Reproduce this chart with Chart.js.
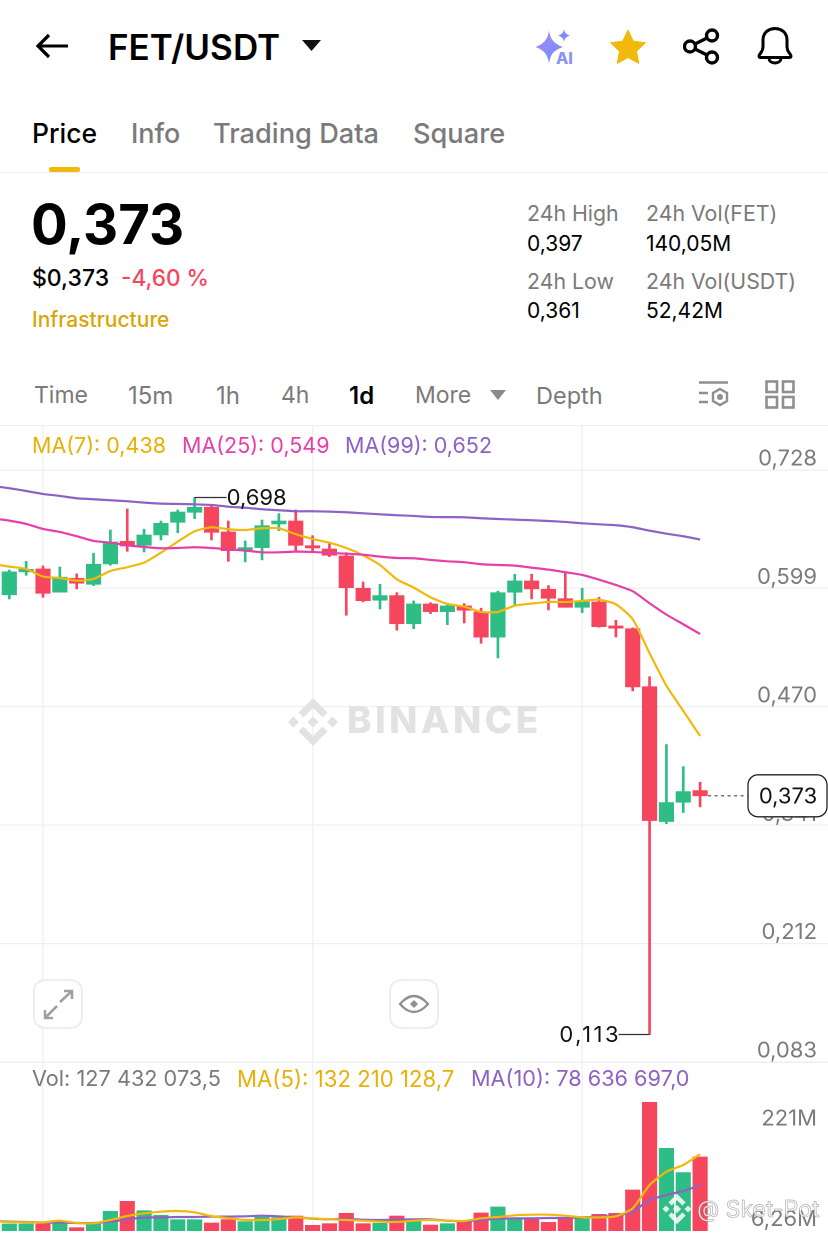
<!DOCTYPE html>
<html>
<head>
<meta charset="utf-8">
<title>FET/USDT</title>
<script src="https://cdn.jsdelivr.net/npm/chart.js@4/dist/chart.umd.min.js"></script>
<style>
  html, body { margin: 0; padding: 0; background: #fff; }
  body { width: 828px; height: 1236px; position: relative; overflow: hidden; font-family: Inter, sans-serif; color: #000; }
  .t { position: absolute; white-space: nowrap; line-height: 1; }
  .grey { color: #7a7a7a; }
  .hr { position: absolute; left: 0; width: 828px; height: 1px; background: #eeeeee; }
  canvas { position: absolute; left: 0; }
  svg { position: absolute; }
  .btn { position: absolute; box-sizing: border-box; width: 50px; height: 50px; border: 2px solid #eeeeee; border-radius: 12px; background: rgba(255,255,255,.88); }
</style>
</head>
<body>

<!-- header -->
<svg style="left:35px;top:30px" width="34" height="32" viewBox="0 0 34 32" fill="none" stroke="#000" stroke-width="3.2"><path d="M33 16H3M14 5L3 16l11 11"/></svg>
<div class="t" style="left:108px;top:30px;font-size:35px;font-weight:600">FET/USDT</div>
<svg style="left:302px;top:40px" width="20" height="12"><path d="M0 0h19L9.5 11z" fill="#111"/></svg>
<svg style="left:534px;top:28px" width="44" height="38"><defs><linearGradient id="g" x1="0" y1="0" x2="1" y2="1"><stop offset="0" stop-color="#a48cf0"/><stop offset="1" stop-color="#6f8cff"/></linearGradient></defs><path d="M15 2.500c1.500 9 4.500 13 14 16.500-9.500 3.500-12.500 7-14 16.500C13.500 26 10.500 22.500 1.500 19c9-3.500 12-7.500 13.500-16.500z" fill="url(#g)"/><path d="M30 1c.6 4 2 5 6 6.500C32 9 30.600 10.500 30 14c-.6-3.500-2-5-6-6.500C28 6 29.400 5 30 1z" fill="#7c8cf8"/></svg>
<div class="t" style="left:556px;top:50px;font-size:16px;font-weight:800;color:#8a94f4">AI</div>
<svg style="left:609px;top:28px" width="38" height="36" viewBox="0 0 38 36"><path d="M19 2l5.300 11.200 12.200 1.600-9 8.500 2.300 12.100L19 29.500 8.200 35.400l2.300-12.100-9-8.500 12.200-1.600z" fill="#f0b90b" stroke="#f0b90b" stroke-linejoin="round"/></svg>
<svg style="left:683px;top:28px" width="38" height="38" fill="none" stroke="#000" stroke-width="3.400"><circle cx="29" cy="7.500" r="5.500"/><circle cx="7" cy="18.500" r="5.500"/><circle cx="29" cy="29.500" r="5.500"/><path d="M12 16l12-6M12 21l12 6"/></svg>
<svg style="left:756px;top:26px" width="38" height="40" fill="none" stroke="#000" stroke-width="3"><path d="M3 30c0-2 4-4 4-9v-7c0-7 5-11.500 12-11.500S31 7 31 14v7c0 5 4 7 4 9 0 1-.5 1.500-1.500 1.500h-29C3.500 31.500 3 31 3 30z"/><path d="M13 32c0 3 2.500 5 6 5s6-2 6-5"/></svg>

<!-- tabs -->
<div class="t" style="left:32px;top:120px;font-size:26.500px;font-weight:500">Price</div>
<div class="t grey" style="left:131px;top:120px;font-size:27px;font-weight:500">Info</div>
<div class="t grey" style="left:213px;top:120px;font-size:27.200px;font-weight:500">Trading Data</div>
<div class="t grey" style="left:413px;top:120px;font-size:27.200px;font-weight:500">Square</div>
<div style="position:absolute;left:49px;top:167px;width:31px;height:5px;background:#f0b90b;border-radius:2px"></div>
<div class="hr" style="top:172px"></div>

<!-- price block -->
<div class="t" style="left:31px;top:197px;font-size:54.500px;font-weight:700">0,373</div>
<div class="t" style="left:32px;top:267px;font-size:23px;font-weight:500">$0,373</div>
<div class="t" style="left:121px;top:267px;font-size:22.600px;font-weight:500;color:#f6465d">-4,60 %</div>
<div class="t" style="left:32px;top:309px;font-size:21px;font-weight:500;color:#d9a507">Infrastructure</div>

<div class="t grey" style="left:527px;top:203px;font-size:21.300px">24h High</div>
<div class="t" style="left:527px;top:233px;font-size:21px">0,397</div>
<div class="t grey" style="left:527px;top:271px;font-size:21.300px">24h Low</div>
<div class="t" style="left:527px;top:300px;font-size:21px">0,361</div>
<div class="t grey" style="left:646px;top:203px;font-size:21.300px">24h Vol(FET)</div>
<div class="t" style="left:646px;top:233px;font-size:21px">140,05M</div>
<div class="t grey" style="left:646px;top:271px;font-size:21.300px">24h Vol(USDT)</div>
<div class="t" style="left:646px;top:300px;font-size:21px">52,42M</div>

<!-- interval row -->
<div class="t grey" style="left:34px;top:384px;font-size:23px">Time</div>
<div class="t grey" style="left:128px;top:384px;font-size:24px">15m</div>
<div class="t grey" style="left:216px;top:384px;font-size:24px">1h</div>
<div class="t grey" style="left:281px;top:384px;font-size:23px">4h</div>
<div class="t" style="left:349px;top:384px;font-size:24px;font-weight:600">1d</div>
<div class="t grey" style="left:415px;top:384px;font-size:23px">More</div>
<svg style="left:490px;top:390px" width="16" height="11"><path d="M0 0h16L8 10z" fill="#8a8a8a"/></svg>
<div class="t grey" style="left:536px;top:384px;font-size:23.500px">Depth</div>
<svg style="left:698px;top:380px" width="32" height="30" fill="none" stroke="#8f8f8f" stroke-width="2.400"><path d="M1 2.500h29M1 13h9M1 22h9"/><path d="M22 9l7 4v8l-7 4-7-4v-8z"/><circle cx="22" cy="17" r="1.800" fill="#8f8f8f"/></svg>
<svg style="left:765px;top:380px" width="30" height="30" fill="none" stroke="#8f8f8f" stroke-width="2.600"><rect x="1.500" y="1.500" width="10.500" height="10.500"/><rect x="18" y="1.500" width="10.500" height="10.500"/><rect x="1.500" y="17" width="10.500" height="10.500"/><rect x="18" y="17" width="10.500" height="10.500"/></svg>
<div class="hr" style="top:425px"></div>

<!-- charts -->
<canvas id="priceChart" style="top:426px"></canvas>
<canvas id="volChart" style="top:1062px"></canvas>
<div class="hr" style="top:1062px"></div>

<!-- legends -->
<div class="t" style="left:32px;top:435px;font-size:21.500px;color:#e8b008">MA(7): 0,438</div>
<div class="t" style="left:182px;top:435px;font-size:21.500px;color:#e63fa9">MA(25): 0,549</div>
<div class="t" style="left:345px;top:435px;font-size:21.500px;color:#8e62c4">MA(99): 0,652</div>
<div class="t grey" style="left:32px;top:1068px;font-size:21.700px">Vol: 127 432 073,5</div>
<div class="t" style="left:237px;top:1068px;font-size:22.200px;color:#e8b008">MA(5): 132 210 128,7</div>
<div class="t" style="left:471px;top:1068px;font-size:21.700px;color:#8e62c4">MA(10): 78 636 697,0</div>

<!-- chart buttons -->
<div class="btn" style="left:33px;top:979px"></div>
<svg style="left:42px;top:988px" width="32" height="32" fill="none" stroke="#a0a0a0" stroke-width="2.500"><path d="M18 14L30 3M22 3h8v8M15 18L3 30M3 22v8h8"/></svg>
<div class="btn" style="left:389px;top:979px"></div>
<svg style="left:398px;top:992px" width="32" height="24" fill="none" stroke="#8f8f8f" stroke-width="2.300"><path d="M2 12Q16-4 30 12 16 28 2 12z"/><path d="M16 8l4 4-4 4-4-4z" fill="#8f8f8f" stroke="none"/></svg>

<script>
// day index along the x axis; -1 is the session just left of the screen, lines only
const days = [-1, 0, 1, 2, 3, 4, 5, 6, 7, 8, 9, 10, 11, 12, 13, 14, 15, 16, 17, 18, 19, 20, 21, 22, 23, 24, 25, 26, 27, 28, 29, 30, 31, 32, 33, 34, 35, 36, 37, 38, 39, 40, 41];

const opens = [0.592, 0.617, 0.6202, 0.5948, 0.61, 0.6035, 0.6256, 0.6503, 0.646, 0.6572, 0.671, 0.6819, 0.6874, 0.6605, 0.6401, 0.6434, 0.6692, 0.6724, 0.6455, 0.6419, 0.6343, 0.5991, 0.5861, 0.5911, 0.5606, 0.582, 0.5736, 0.5799, 0.5733, 0.5458, 0.5948, 0.6071, 0.598, 0.5878, 0.5784, 0.5842, 0.5581, 0.5551, 0.4919, 0.3449, 0.366, 0.3787];
const highs = [0.619, 0.6285, 0.6234, 0.6223, 0.6147, 0.6373, 0.6626, 0.6855, 0.6634, 0.6724, 0.6844, 0.698, 0.6888, 0.6724, 0.6507, 0.6735, 0.6804, 0.6844, 0.6564, 0.6485, 0.6379, 0.606, 0.6035, 0.5943, 0.5853, 0.5834, 0.5828, 0.5824, 0.5774, 0.5959, 0.6144, 0.6144, 0.602, 0.6169, 0.5991, 0.5893, 0.5643, 0.5559, 0.5028, 0.4288, 0.4048, 0.3878];
const lows = [0.5875, 0.6133, 0.5893, 0.5948, 0.5984, 0.602, 0.6242, 0.6394, 0.6387, 0.6517, 0.6597, 0.675, 0.6517, 0.6285, 0.6278, 0.63, 0.6619, 0.6405, 0.639, 0.6336, 0.5697, 0.5842, 0.5766, 0.5534, 0.5551, 0.5715, 0.5595, 0.5613, 0.5392, 0.5232, 0.5809, 0.5875, 0.5755, 0.5784, 0.5726, 0.5567, 0.5461, 0.4873, 0.113, 0.3427, 0.3547, 0.3609];
const closes = [0.617, 0.6198, 0.5937, 0.6111, 0.6046, 0.6253, 0.6496, 0.6452, 0.6572, 0.6699, 0.6822, 0.6874, 0.6601, 0.6401, 0.6434, 0.6673, 0.6724, 0.646, 0.643, 0.6351, 0.5998, 0.5856, 0.5911, 0.5606, 0.582, 0.5736, 0.5799, 0.5752, 0.5458, 0.5943, 0.6071, 0.5984, 0.5882, 0.5784, 0.5842, 0.5573, 0.5556, 0.4916, 0.346, 0.3656, 0.3776, 0.373];

const ma7 = [0.6256, 0.6227, 0.6202, 0.6118, 0.6104, 0.6074, 0.6093, 0.618, 0.622, 0.627, 0.6379, 0.6499, 0.6612, 0.6656, 0.6634, 0.6626, 0.6645, 0.6645, 0.658, 0.6528, 0.6488, 0.643, 0.6351, 0.6245, 0.6089, 0.5998, 0.5893, 0.582, 0.5791, 0.5733, 0.5733, 0.5802, 0.5824, 0.5842, 0.5842, 0.5853, 0.5867, 0.5817, 0.5654, 0.5283, 0.493, 0.4655, 0.4382];
const ma25 = [0.6752, 0.6728, 0.6692, 0.6637, 0.6605, 0.6558, 0.6507, 0.6488, 0.646, 0.6441, 0.6427, 0.643, 0.6438, 0.643, 0.6416, 0.6401, 0.6383, 0.6383, 0.639, 0.6387, 0.6376, 0.6368, 0.6357, 0.6336, 0.6321, 0.6318, 0.63, 0.6285, 0.6275, 0.6253, 0.6245, 0.6238, 0.6216, 0.6194, 0.6166, 0.6136, 0.6085, 0.6027, 0.5959, 0.5828, 0.5704, 0.5599, 0.5493];
const ma99 = [0.7106, 0.7081, 0.7051, 0.7019, 0.6997, 0.6972, 0.6961, 0.695, 0.6939, 0.6924, 0.6913, 0.691, 0.6906, 0.6899, 0.688, 0.6869, 0.6852, 0.6841, 0.683, 0.683, 0.6826, 0.6819, 0.6808, 0.6797, 0.6787, 0.6779, 0.6768, 0.6766, 0.6765, 0.6754, 0.6746, 0.6739, 0.6732, 0.6724, 0.6714, 0.6699, 0.6688, 0.6678, 0.6656, 0.6619, 0.6586, 0.6558, 0.6522];

const volumes = [12.1, 12.1, 12.1, 14.4, 5.7, 12.1, 33.9, 51.1, 35, 27, 19.5, 19.5, 13.8, 19.5, 16.1, 24.1, 23, 25.8, 9.8, 12.6, 30.4, 12.6, 13.2, 25.8, 17.8, 10.3, 12.6, 17.2, 31, 41.3, 21.8, 20.1, 14.9, 21.2, 21.8, 28.7, 30.4, 70.6, 221.6, 142.4, 100.5, 127.4];
const volMa5 = [16.6, 15.5, 14.9, 14.9, 17.8, 13.8, 13.2, 18.9, 25.8, 30.4, 33.3, 34.4, 32.1, 25.8, 21.8, 18.9, 18.9, 20.7, 23.5, 21.8, 20.1, 18.9, 17.8, 16.1, 15.5, 17.8, 18.9, 17.8, 17.2, 21.8, 24.1, 27, 28.1, 28.1, 26.4, 23.5, 23.5, 25.3, 39, 79.2, 102.2, 113.7, 132.2];
const volMa10 = [17.2, 16.1, 15.5, 14.4, 14.4, 13.8, 13.8, 16.1, 20.1, 23, 23.5, 24.1, 24.1, 24.7, 24.7, 25.3, 26.4, 25.3, 23.5, 21.2, 20.1, 20.7, 19.5, 18.9, 19.5, 20.1, 20.1, 17.8, 16.6, 18.9, 21.2, 21.8, 21.8, 22.4, 22.4, 23.5, 24.7, 26.4, 33.3, 53.4, 62, 68.9, 78.6];

const priceTicks = [0.728, 0.599, 0.47, 0.341, 0.212, 0.083];
const gridDays = [2, 18, 34];
const lastPrice = 0.373;
const maxPrice = 0.698, maxDay = 11;
const minPrice = 0.113, minDay = 38;

const UP = '#2ebd85', DOWN = '#f6465d';
const GOLD = '#f0b90b', PINK = '#e63fa9', PURPLE = '#8e62c4';
const candleDays = days.slice(1);
const candleColors = closes.map((c, i) => (c >= opens[i] ? UP : DOWN));

// shows day -0.55 .. 48.6 so candles land 16.85px apart
const xScale = {
  type: 'linear', min: -0.552, max: 48.59, offset: false,
  afterBuildTicks: (s) => { s.ticks = gridDays.map((v) => ({ value: v })); },
  grid: { color: '#f2f2f2', drawTicks: false, lineWidth: 1.5, offset: false },
  border: { display: false },
  ticks: { display: false },
};

function line(label, values, color) {
  return {
    type: 'line', label, data: days.map((d, i) => ({ x: d, y: values[i] })),
    borderColor: color, borderWidth: 2.2, pointRadius: 0, tension: 0.2, order: 0,
  };
}

const fmt = (v) => v.toFixed(3).replace('.', ',');

const priceOverlay = {
  id: 'priceOverlay',
  afterDatasetsDraw(chart) {
    const { ctx, scales: { x, y } } = chart;
    ctx.save();
    ctx.font = '22px Inter, sans-serif';
    ctx.textBaseline = 'middle';

    // highest and lowest markers
    ctx.strokeStyle = '#333'; ctx.lineWidth = 1.2; ctx.fillStyle = '#111';
    const hx = x.getPixelForValue(maxDay), hy = y.getPixelForValue(maxPrice);
    ctx.beginPath(); ctx.moveTo(hx, hy); ctx.lineTo(hx + 32, hy); ctx.stroke();
    ctx.textAlign = 'left';
    ctx.fillText(fmt(maxPrice), hx + 32, hy + 1);
    const lx = x.getPixelForValue(minDay), ly = y.getPixelForValue(minPrice);
    ctx.beginPath(); ctx.moveTo(lx, ly); ctx.lineTo(lx - 31, ly); ctx.stroke();
    ctx.textAlign = 'right';
    ctx.letterSpacing = '2.5px'; // the 1s are narrow in this font
    ctx.fillText(fmt(minPrice), lx - 28.5, ly + 1);
    ctx.letterSpacing = '0px';

    // current price: dashes and tag
    const py = y.getPixelForValue(lastPrice), px = x.getPixelForValue(days[days.length - 1]);
    ctx.setLineDash([3, 3.5]); ctx.strokeStyle = '#444';
    ctx.beginPath(); ctx.moveTo(px + 8, py); ctx.lineTo(748, py); ctx.stroke();
    ctx.setLineDash([]);
    ctx.fillStyle = '#fff'; ctx.lineWidth = 1.3; ctx.strokeStyle = '#222';
    ctx.beginPath(); ctx.roundRect(748, py - 21, 79, 42, 10); ctx.fill(); ctx.stroke();
    ctx.fillStyle = '#111'; ctx.textAlign = 'center';
    ctx.fillText(fmt(lastPrice), 788, py + 1);
    ctx.restore();
  },
};

const watermark = {
  id: 'watermark',
  beforeDatasetsDraw(chart) {
    const { ctx } = chart;
    ctx.save();
    ctx.fillStyle = '#e2e2e2';
    ctx.font = '800 37px Inter, sans-serif';
    ctx.letterSpacing = '3.5px';
    ctx.textAlign = 'left'; ctx.textBaseline = 'middle';
    ctx.fillText('BINANCE', 347, 296);
    ctx.letterSpacing = '0px';
    // diamond logo
    const cx = 313, cy = 296;
    const diamond = (dx, dy, r) => {
      ctx.beginPath();
      ctx.moveTo(cx + dx, cy + dy - r); ctx.lineTo(cx + dx + r, cy + dy);
      ctx.lineTo(cx + dx, cy + dy + r); ctx.lineTo(cx + dx - r, cy + dy); ctx.closePath(); ctx.fill();
    };
    diamond(0, 0, 5.5); diamond(-19.5, 0, 5.5); diamond(19.5, 0, 5.5);
    ctx.lineWidth = 7; ctx.strokeStyle = '#e2e2e2';
    ctx.beginPath(); ctx.moveTo(-12 + cx, cy - 7); ctx.lineTo(cx, cy - 19); ctx.lineTo(cx + 12, cy - 7); ctx.stroke();
    ctx.beginPath(); ctx.moveTo(-12 + cx, cy + 7); ctx.lineTo(cx, cy + 19); ctx.lineTo(cx + 12, cy + 7); ctx.stroke();
    ctx.restore();
  },
};

const volLabels = {
  id: 'volLabels',
  afterDatasetsDraw(chart) {
    const { ctx, scales: { y } } = chart;
    ctx.save();
    ctx.font = '22px Inter, sans-serif';
    ctx.fillStyle = '#7a7a7a';
    ctx.textAlign = 'right';
    ctx.textBaseline = 'top';
    ctx.fillText('221M', 817, y.getPixelForValue(221) + 5);
    ctx.textBaseline = 'bottom';
    ctx.fillText('6,26M', 817, y.getPixelForValue(6.26) + 3);

    // reposter's mark over the bottom right corner
    const cx = 677, cy = 147;
    ctx.fillStyle = 'rgba(255,255,255,0.85)';
    [[0, 0, 4], [-11, 0, 3.5], [11, 0, 3.5]].forEach(([dx, dy, r]) => {
      ctx.beginPath();
      ctx.moveTo(cx + dx, cy + dy - r); ctx.lineTo(cx + dx + r, cy + dy);
      ctx.lineTo(cx + dx, cy + dy + r); ctx.lineTo(cx + dx - r, cy + dy); ctx.closePath(); ctx.fill();
    });
    ctx.strokeStyle = 'rgba(255,255,255,0.85)'; ctx.lineWidth = 4.5;
    ctx.beginPath(); ctx.moveTo(cx - 7, cy - 5); ctx.lineTo(cx, cy - 12); ctx.lineTo(cx + 7, cy - 5); ctx.stroke();
    ctx.beginPath(); ctx.moveTo(cx - 7, cy + 5); ctx.lineTo(cx, cy + 12); ctx.lineTo(cx + 7, cy + 5); ctx.stroke();
    ctx.font = '23px Inter, sans-serif';
    ctx.textAlign = 'left'; ctx.textBaseline = 'middle';
    ctx.fillStyle = 'rgba(255,255,255,0.85)';
    ctx.strokeStyle = 'rgba(110,110,110,0.55)'; ctx.lineWidth = 0.7;
    ctx.fillText('@ Sket-Pot', 697, cy + 1);
    ctx.strokeText('@ Sket-Pot', 697, cy + 1);
    ctx.restore();
  },
};

const base = {
  responsive: false, animation: false, devicePixelRatio: 2,
  layout: { padding: 0, autoPadding: false },
  plugins: { legend: { display: false }, tooltip: { enabled: false } },
};

function makeCanvas(id, h) {
  const c = document.getElementById(id);
  c.width = 828; c.height = h;
  c.style.width = '828px'; c.style.height = h + 'px';
  return c;
}

new Chart(makeCanvas('priceChart', 636), {
  type: 'bar',
  data: {
    datasets: [
      {
        label: 'wick', grouped: false, order: 2, barThickness: 2, backgroundColor: candleColors,
        data: candleDays.map((d, i) => ({ x: d, y: [lows[i], highs[i]] })),
      },
      {
        label: 'body', grouped: false, order: 1, barThickness: 14.5, backgroundColor: candleColors,
        minBarLength: 2,
        data: candleDays.map((d, i) => ({ x: d, y: [opens[i], closes[i]] })),
      },
      line('MA(99)', ma99, PURPLE),
      line('MA(25)', ma25, PINK),
      line('MA(7)', ma7, GOLD),
    ],
  },
  plugins: [watermark, priceOverlay],
  options: {
    ...base,
    scales: {
      x: xScale,
      y: {
        type: 'linear', position: 'right',
        min: 0.083, max: 0.7759,
        afterBuildTicks: (s) => { s.ticks = priceTicks.map((v) => ({ value: v })); },
        grid: { color: '#efefef', drawTicks: false, lineWidth: 1.3 },
        border: { display: false },
        // labels sit inside the plot, so the axis takes no room of its own
        afterFit: (s) => { s.width = 0; s.paddingTop = 0; s.paddingBottom = 0; },
        ticks: {
          mirror: true, align: 'end', padding: -11, color: '#7a7a7a', autoSkip: false,
          font: { family: 'Inter, sans-serif', size: 22 },
          callback: (v) => fmt(v),
        },
      },
    },
  },
});

new Chart(makeCanvas('volChart', 169), {
  type: 'bar',
  data: {
    datasets: [
      {
        label: 'Vol', grouped: false, order: 1, barThickness: 14.5, backgroundColor: candleColors,
        data: candleDays.map((d, i) => ({ x: d, y: volumes[i] })),
      },
      line('MA(5)', volMa5, GOLD),
      line('MA(10)', volMa10, PURPLE),
    ],
  },
  plugins: [volLabels],
  options: {
    ...base,
    scales: {
      x: xScale,
      y: {
        type: 'linear', position: 'right', min: 0, max: 291,
        grid: { display: false }, border: { display: false },
        afterFit: (s) => { s.width = 0; },
        ticks: { display: false },
      },
    },
  },
});
</script>
</body>
</html>
